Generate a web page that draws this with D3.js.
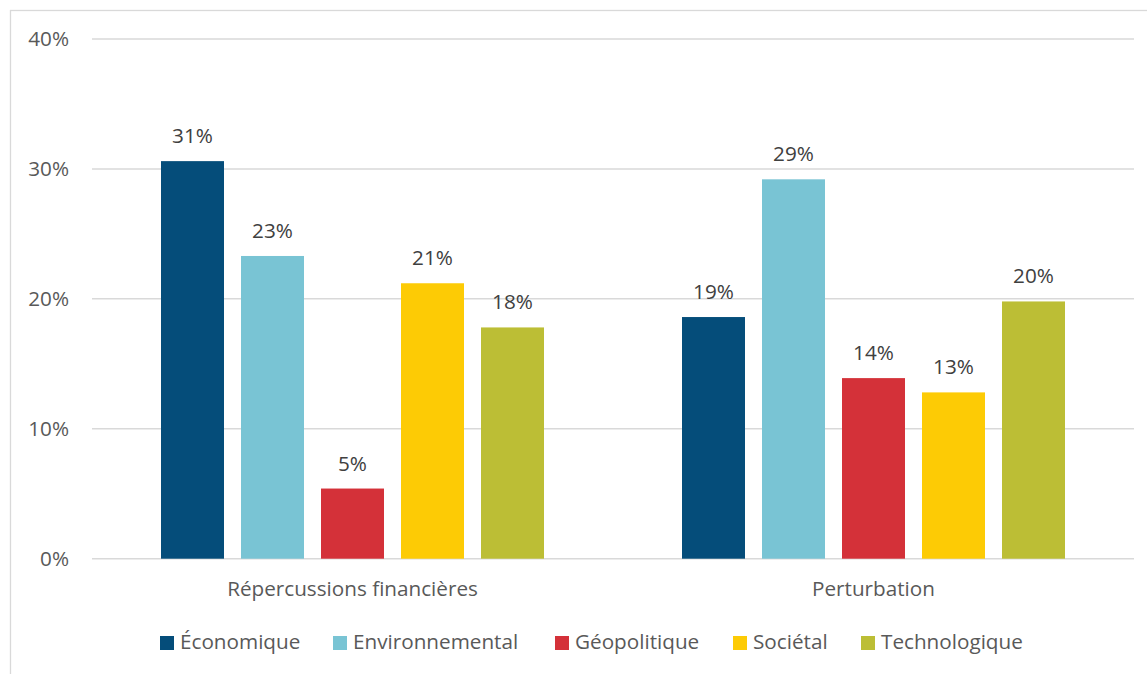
<!DOCTYPE html>
<html lang="fr">
<head>
<meta charset="utf-8">
<script src="https://cdn.jsdelivr.net/npm/d3@7"></script>
<style>
  html, body { margin: 0; padding: 0; background: #fff; }
  svg { display: block; font-family: "Open Sans", "Noto Sans", sans-serif; }
</style>
</head>
<body>
<svg id="chart" width="1147" height="674"></svg>
<script>
// Risk categories (x groups) and series (bar colours)
const categories = ["Répercussions financières", "Perturbation"];
const series = ["Économique", "Environnemental", "Géopolitique", "Sociétal", "Technologique"];
const colors = ["#054d7a", "#79c4d4", "#d43139", "#fdcb05", "#bcbe35"];

// Share of responses per series, in %, one entry per category
const economique      = [30.6, 18.6];
const environnemental = [23.3, 29.2];
const geopolitique    = [5.4, 13.9];
const societal        = [21.2, 12.8];
const technologique   = [17.8, 19.8];

const yTicks = [0, 10, 20, 30, 40];

const valuesBySeries = [economique, environnemental, geopolitique, societal, technologique];

const svg = d3.select("#chart");
const W = 1147, H = 674;
const margin = { left: 92, right: 13, top: 39, bottom: 115.3 };
const fontSize = 20.7;

// Outer frame
svg.append("rect")
  .attr("x", 10.5).attr("y", 10.5)
  .attr("width", W + 10).attr("height", H + 10)
  .attr("fill", "none").attr("stroke", "#d9d9d9").attr("stroke-width", 1.3);

const x0 = d3.scaleBand()
  .domain(categories)
  .range([margin.left, W - margin.right]);

const x1 = d3.scaleBand()
  .domain(series)
  .range([0, x0.bandwidth()])
  .paddingInner(0.2125)
  .paddingOuter(0.8625);

const y = d3.scaleLinear()
  .domain([0, 40])
  .range([H - margin.bottom, margin.top]);

// Gridlines and y tick labels
const yAxis = svg.append("g").attr("class", "y-axis");
yAxis.selectAll("line")
  .data(yTicks)
  .join("line")
  .attr("x1", margin.left).attr("x2", W - margin.right)
  .attr("y1", d => y(d)).attr("y2", d => y(d))
  .attr("stroke", "#d9d9d9").attr("stroke-width", 1.5);
yAxis.selectAll("text")
  .data(yTicks)
  .join("text")
  .attr("x", 69).attr("y", d => y(d))
  .attr("dy", "0.35em")
  .attr("text-anchor", "end")
  .attr("font-size", fontSize)
  .attr("fill", "#595959")
  .text(d => d + "%");

// Bars
const rows = [];
series.forEach((s, si) => {
  categories.forEach((c, ci) => {
    rows.push({ series: s, category: c, value: valuesBySeries[si][ci], color: colors[si] });
  });
});

svg.append("g").selectAll("rect")
  .data(rows)
  .join("rect")
  .attr("x", d => x0(d.category) + x1(d.series))
  .attr("y", d => y(d.value))
  .attr("width", x1.bandwidth())
  .attr("height", d => y(0) - y(d.value))
  .attr("fill", d => d.color);

// Value labels above each bar
svg.append("g").selectAll("text")
  .data(rows)
  .join("text")
  .attr("x", d => x0(d.category) + x1(d.series) + x1.bandwidth() / 2)
  .attr("y", d => y(d.value) - 18)
  .attr("text-anchor", "middle")
  .attr("font-size", fontSize)
  .attr("fill", "#404040")
  .text(d => Math.round(d.value) + "%");

// Category labels
svg.append("g").selectAll("text")
  .data(categories)
  .join("text")
  .attr("x", d => x0(d) + x0.bandwidth() / 2)
  .attr("y", 596)
  .attr("text-anchor", "middle")
  .attr("font-size", fontSize)
  .attr("fill", "#595959")
  .text(d => d);

// Legend
const legendX = [160, 333, 555, 733, 861];
const legend = svg.append("g").selectAll("g")
  .data(series)
  .join("g")
  .attr("transform", (d, i) => `translate(${legendX[i]},636)`);
legend.append("rect")
  .attr("width", 14).attr("height", 14)
  .attr("fill", (d, i) => colors[i]);
legend.append("text")
  .attr("x", 20).attr("y", 13)
  .attr("font-size", fontSize)
  .attr("fill", "#595959")
  .text(d => d);
</script>
</body>
</html>
